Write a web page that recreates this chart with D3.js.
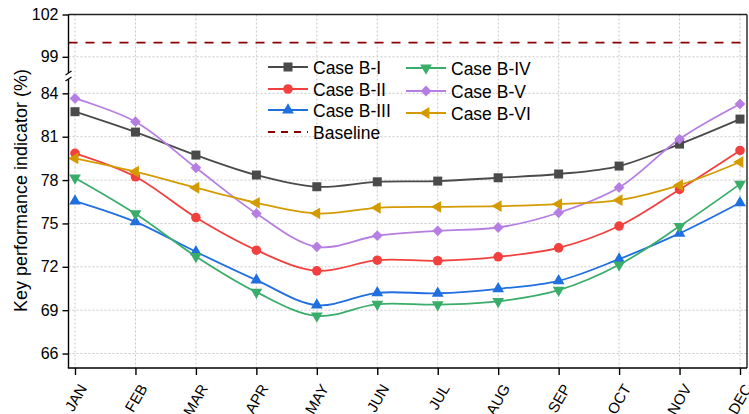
<!DOCTYPE html>
<html>
<head>
<meta charset="utf-8">
<script src="https://cdn.jsdelivr.net/npm/d3@7"></script>
<style>
  body { margin: 0; background: #fff; }
  svg text { font-family: Arial, "Liberation Sans", sans-serif; fill: #000; }
</style>
</head>
<body>
<div id="chart"></div>
<script>
// data
const months = ['JAN','FEB','MAR','APR','MAY','JUN','JUL','AUG','SEP','OCT','NOV','DEC'];
const caseB1 = [82.73, 81.32, 79.73, 78.35, 77.54, 77.88, 77.93, 78.16, 78.42, 78.97, 80.49, 82.22];
const caseB2 = [79.85, 78.23, 75.41, 73.15, 71.72, 72.46, 72.42, 72.69, 73.31, 74.82, 77.35, 80.05];
const caseB3 = [76.55, 75.11, 73.04, 71.08, 69.35, 70.2, 70.17, 70.48, 71.03, 72.53, 74.31, 76.43];
const caseB4 = [78.15, 75.67, 72.72, 70.25, 68.6, 69.42, 69.38, 69.61, 70.38, 72.14, 74.8, 77.72];
const caseB5 = [83.65, 82.04, 78.85, 75.69, 73.38, 74.15, 74.49, 74.72, 75.74, 77.49, 80.84, 83.26];
const caseB6 = [79.5, 78.58, 77.47, 76.43, 75.69, 76.08, 76.15, 76.2, 76.34, 76.61, 77.65, 79.25];
const baseline = 100;
const lowTicks = [66, 69, 72, 75, 78, 81, 84];
const highTicks = [99, 102];

const series = [
  { name: 'Case B-I',   values: caseB1, color: '#4a4a4a', shape: 'square' },
  { name: 'Case B-II',  values: caseB2, color: '#f2403f', shape: 'circle' },
  { name: 'Case B-III', values: caseB3, color: '#1f6fe0', shape: 'up' },
  { name: 'Case B-IV',  values: caseB4, color: '#3aad6a', shape: 'down' },
  { name: 'Case B-V',   values: caseB5, color: '#b67ee3', shape: 'diamond' },
  { name: 'Case B-VI',  values: caseB6, color: '#d49b00', shape: 'left' }
];

// layout
const W = 749, H = 414;
const margins = { left: 68.5, right: 747, top: 14.5, bottom: 368 };
const breakY = 76;

const svg = d3.select('#chart').append('svg')
  .attr('width', W).attr('height', H);

// scales
const xScale = d3.scalePoint().domain(months).range([75, 740]);
const yLow = d3.scaleLinear().domain([65, 85.2]).range([margins.bottom, breakY]);
const yHigh = d3.scaleLinear().domain([97.64, 102]).range([breakY, margins.top]);

// grid
const grid = svg.append('g').attr('stroke', '#c8c8c8').attr('stroke-dasharray', '2,2').attr('stroke-width', 1);
grid.selectAll('.vg').data(months).join('line')
  .attr('x1', d => xScale(d)).attr('x2', d => xScale(d))
  .attr('y1', margins.top).attr('y2', margins.bottom);
grid.selectAll('.hl').data(lowTicks).join('line')
  .attr('x1', margins.left).attr('x2', margins.right)
  .attr('y1', d => yLow(d)).attr('y2', d => yLow(d));
grid.selectAll('.hh').data(highTicks).join('line')
  .attr('x1', margins.left).attr('x2', margins.right)
  .attr('y1', d => yHigh(d)).attr('y2', d => yHigh(d));

// baseline
svg.append('line')
  .attr('x1', margins.left).attr('x2', margins.right)
  .attr('y1', yHigh(baseline)).attr('y2', yHigh(baseline))
  .attr('stroke', '#8b0000').attr('stroke-width', 1.8).attr('stroke-dasharray', '9,8');

// symbols
function symbolPath(shape) {
  if (shape === 'square') return d3.symbol(d3.symbolSquare, 81)();
  if (shape === 'circle') return d3.symbol(d3.symbolCircle, 72)();
  if (shape === 'diamond') return d3.symbol(d3.symbolSquare, 58)();
  return d3.symbol(d3.symbolTriangle, 60)();
}
function symbolRotate(shape) {
  if (shape === 'diamond') return 45;
  if (shape === 'down') return 180;
  if (shape === 'left') return -90;
  return 0;
}

const line = d3.line()
  .curve(d3.curveCatmullRom)
  .x((d, i) => xScale(months[i]))
  .y(d => yLow(d));

const plot = svg.append('g');
series.forEach(s => {
  const g = plot.append('g');
  g.append('path')
    .datum(s.values)
    .attr('fill', 'none')
    .attr('stroke', s.color)
    .attr('stroke-width', 1.8)
    .attr('d', line);
  g.selectAll('path.mk').data(s.values).join('path')
    .attr('class', 'mk')
    .attr('d', symbolPath(s.shape))
    .attr('fill', s.color)
    .attr('transform', (d, i) => `translate(${xScale(months[i])},${yLow(d)}) rotate(${symbolRotate(s.shape)})`);
});

// frame
const frame = svg.append('g').attr('stroke', '#000').attr('stroke-width', 1.4).attr('fill', 'none');
frame.append('line').attr('x1', margins.left).attr('x2', margins.right).attr('y1', margins.top).attr('y2', margins.top).attr('stroke', '#222');
frame.append('line').attr('x1', margins.right).attr('x2', margins.right).attr('y1', margins.top).attr('y2', margins.bottom).attr('stroke', '#222');
frame.append('line').attr('x1', margins.left - 0.7).attr('x2', margins.right).attr('y1', margins.bottom).attr('y2', margins.bottom);
frame.append('line').attr('x1', margins.left).attr('x2', margins.left).attr('y1', margins.top).attr('y2', 73);
frame.append('line').attr('x1', margins.left).attr('x2', margins.left).attr('y1', 79).attr('y2', margins.bottom);
// break marks
frame.append('line').attr('x1', margins.left - 3).attr('x2', margins.left + 3).attr('y1', 75).attr('y2', 71).attr('stroke-width', 1.2);
frame.append('line').attr('x1', margins.left - 3).attr('x2', margins.left + 3).attr('y1', 81).attr('y2', 77).attr('stroke-width', 1.2);

// y axes
const yLowAxis = svg.append('g').attr('transform', `translate(${margins.left},0)`)
  .call(d3.axisLeft(yLow).tickValues(lowTicks).tickFormat(d3.format('d')).tickSize(6).tickPadding(4));
const yHighAxis = svg.append('g').attr('transform', `translate(${margins.left},0)`)
  .call(d3.axisLeft(yHigh).tickValues(highTicks).tickFormat(d3.format('d')).tickSize(6).tickPadding(4));
[yLowAxis, yHighAxis].forEach(a => {
  a.select('.domain').remove();
  a.selectAll('.tick line').attr('stroke', '#000').attr('stroke-width', 1.4);
  a.selectAll('.tick text').attr('font-size', 16).attr('font-family', 'Arial, "Liberation Sans", sans-serif');
});

// x axis
const xAxis = svg.append('g').attr('transform', `translate(0,${margins.bottom})`)
  .call(d3.axisBottom(xScale).tickSize(7).tickFormat(''));
xAxis.select('.domain').remove();
xAxis.selectAll('.tick line').attr('stroke', '#000').attr('stroke-width', 1.4);
svg.append('g').selectAll('text').data(months).join('text')
  .attr('transform', d => `translate(${xScale(d) + 12.5},${388}) rotate(-60)`)
  .attr('text-anchor', 'end')
  .attr('font-size', 15)
  .text(d => d);

// y title
svg.append('text')
  .attr('transform', `translate(27,${190.5}) rotate(-90)`)
  .attr('text-anchor', 'middle')
  .attr('font-size', 18)
  .text('Key performance indicator (%)');

// legend
const legendItems = series.map(s => ({ name: s.name, color: s.color, shape: s.shape, dashed: false }))
  .concat([{ name: 'Baseline', color: '#8b0000', shape: null, dashed: true }]);
const legendPos = [[268, 67], [268, 89], [268, 110], [268, 132]];
const legendPos2 = [[406, 68], [406, 91], [406, 113]];
const order = [0, 1, 2, 6, 3, 4, 5];
const legend = svg.append('g');
order.forEach((idx, k) => {
  const it = legendItems[idx];
  const p = k < 4 ? legendPos[k] : legendPos2[k - 4];
  const g = legend.append('g').attr('transform', `translate(${p[0]},${p[1]})`);
  g.append('line').attr('x1', 0).attr('x2', 40).attr('y1', 0).attr('y2', 0)
    .attr('stroke', it.color).attr('stroke-width', it.dashed ? 2 : 1.8)
    .attr('stroke-dasharray', it.dashed ? '7,6' : null);
  if (it.shape) {
    g.append('path').attr('d', symbolPath(it.shape)).attr('fill', it.color)
      .attr('transform', `translate(20,0) rotate(${symbolRotate(it.shape)})`);
  }
  g.append('text').attr('x', 45).attr('y', 6.5).attr('font-size', 17.5).text(it.name);
});
</script>
</body>
</html>
